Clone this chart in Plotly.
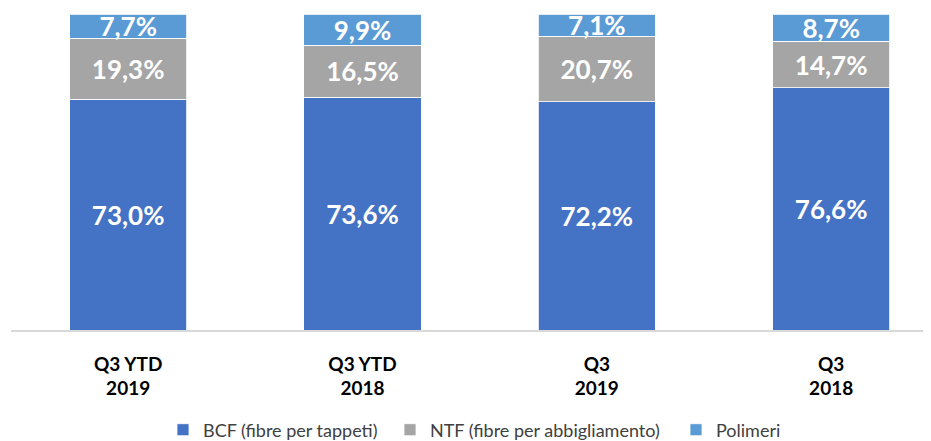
import plotly.graph_objects as go

categories = ["Q3 YTD<br>2019", "Q3 YTD<br>2018", "Q3<br>2019", "Q3<br>2018"]
bcf = [73.0, 73.6, 72.2, 76.6]
ntf = [19.3, 16.5, 20.7, 14.7]
polimeri = [7.7, 9.9, 7.1, 8.7]

series = [
    ("BCF (fibre per tappeti)", bcf, "#4472C4", "legend"),
    ("NTF (fibre per abbigliamento)", ntf, "#A5A5A5", "legend2"),
    ("Polimeri", polimeri, "#5B9BD5", "legend3"),
]

W, H = 923, 433
ML, MT, MB = 3, 6, 111
PW = W - ML
PH = H - MT - MB

fig = go.Figure()
for name, vals, color, leg in series:
    fig.add_trace(go.Bar(
        x=categories, y=vals, name=name, legend=leg,
        marker=dict(color=color, line=dict(color="white", width=0.8)),
        width=0.5,
        texttemplate="%{y:.1f}%",
        textposition="inside",
        insidetextanchor="middle",
        textangle=0,
        constraintext="none",
        textfont=dict(family="Lato", size=26, color="white", weight="bold"),
    ))

leg_font = dict(family="Lato", size=18, color="#404040")
ly = (H - MB - 422) / PH

def leg(xpix):
    return dict(x=(xpix - ML) / PW, y=ly,
                xanchor="left", yanchor="middle", itemwidth=30,
                bgcolor="rgba(0,0,0,0)", font=leg_font)

fig.update_layout(
    barmode="stack",
    separators=",.",
    width=W, height=H,
    margin=dict(l=ML, r=0, t=MT, b=MB, autoexpand=False),
    plot_bgcolor="white", paper_bgcolor="white",
    showlegend=True,
    legend=leg(155),
    legend2=leg(382),
    legend3=leg(668),
    xaxis=dict(range=[-0.5, 3.426], showline=True, linecolor="#D9D9D9", linewidth=1.5,
               ticks="", ticklabelstandoff=16,
               tickfont=dict(family="Lato", size=19, color="black", weight="bold")),
    yaxis=dict(range=[0, 100], visible=False),
)

fig.write_html("out.html")
